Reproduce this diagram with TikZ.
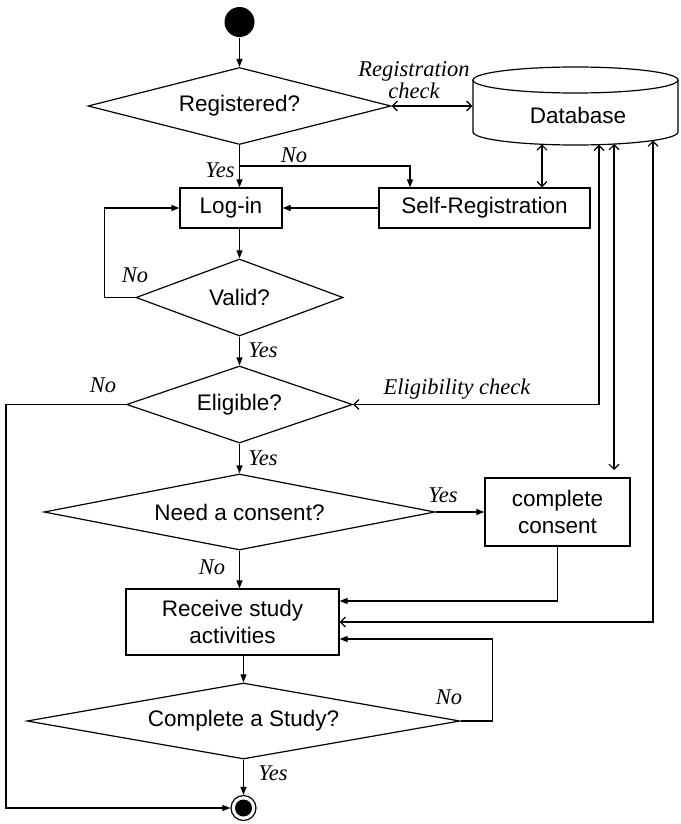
\documentclass[tikz,border=0pt]{standalone}
\usepackage{fontspec}
\setmainfont{Liberation Serif}
\setsansfont{Liberation Sans}
\usetikzlibrary{arrows.meta,shapes.geometric}
\begin{document}
\begin{tikzpicture}[x=1pt,y=-1pt,line width=1.2pt,
  every node/.style={inner sep=0pt},
  txt/.style={font=\sffamily\fontsize{22.5}{27}\selectfont, align=center},
  box/.style={txt, draw, rectangle},
  decision/.style={txt, draw, diamond, aspect=4},
  lbl/.style={font=\itshape\fontsize{22.5}{17}\selectfont, align=center},
  flow/.style={-{Triangle[length=8pt,width=6pt]}},
  sync/.style={{Straight Barb[length=5pt,width=10pt]}-{Straight Barb[length=5pt,width=10pt]}},
]
\useasboundingbox (0,0) rectangle (680,824);

% start and end states
\node[circle, fill=black, minimum size=30pt] (start) at (239.5,22) {};
\node[circle, draw, minimum size=25pt] (end) at (243.5,808) {};
\fill (end.center) circle (8.5pt);

% database cylinder
\node[minimum width=205pt, minimum height=78pt] (db) at (575.5,106) {};
\node[txt] (dbtext) at (578,115) {Database};
\draw (575.5,80) ellipse [x radius=102.5pt, y radius=13pt];
\draw (473,80) -- (473,132) arc[start angle=180, end angle=360, x radius=102.5pt, y radius=13pt] -- (678,80);
\coordinate (dbA) at (542,144.3);
\coordinate (dbB) at (599,144.7);
\coordinate (dbC) at (614,144);
\coordinate (dbD) at (653,140.5);

% process steps and decisions
\node[decision, minimum width=303pt, minimum height=77pt] (reg) at (239.5,106) {Registered?};
\node[box, minimum width=102pt, minimum height=40pt] (login) at (231,208) {Log-in};
\node[box, minimum width=211pt, minimum height=40pt] (selfreg) at (484.5,208) {Self-Registration};
\node[decision, minimum width=207pt, minimum height=77pt] (valid) at (239.5,297.5) {Valid?};
\node[decision, minimum width=226pt, minimum height=77pt] (elig) at (239.5,404.5) {Eligible?};
\node[decision, minimum width=391pt, minimum height=76pt] (consent) at (239.5,512) {Need a consent?};
\node[box, minimum width=145pt, minimum height=68pt] (cbox) at (557.5,512) {complete\\consent};
\node[box, minimum width=213pt, minimum height=66pt] (recv) at (232.5,622) {Receive study\\activities};
\node[decision, minimum width=433pt, minimum height=76pt] (compl) at (243.5,721) {Complete a Study?};

% control flow
\coordinate (jn) at (239.5,166);
\coordinate (ctop) at (614,470);
\draw[flow] (start.south) -- (start.south |- reg.north);
\draw[flow] (reg.south) -- (reg.south |- login.north);
\draw[flow] (jn) -| ([xshift=-74.5pt]selfreg.north);
\draw[flow] (selfreg.west) -- (login.east);
\draw[flow] (valid.north |- login.south) -- (valid.north);
\draw[flow] (valid.west) -- ++(-31,0) |- (login.west);
\draw[flow] (valid.south) -- (elig.north);
\draw[flow] (elig.west) -- ++(-120,0) |- (end.west);
\draw[flow] (elig.south) -- (consent.north);
\draw[flow] (consent.east) -- (consent.east -| cbox.west);
\draw[flow] (consent.south) -- (consent.south |- recv.north);
\draw[flow] (cbox.south) |- ([yshift=21pt]recv.east);
\draw[flow] (compl.north |- recv.south) -- (compl.north);
\draw[flow] (compl.east) -- ++(32,0) |- ([yshift=-17pt]recv.east);
\draw[flow] (compl.south) -- (end.north);

% database exchanges
\draw[sync] (reg.east) -- (db.west);
\draw[sync] (dbA) -- (dbA |- selfreg.north);
\draw[sync] (elig.east) -| (dbB);
\draw[sync] (dbC) -- (ctop);
\draw[sync] (dbD) |- (recv.east);

% branch labels
\node[lbl] (lregchk) at (414,80) {Registration\\check};
\node[lbl] (lyes1) at (220,170) {Yes};
\node[lbl] (lno1) at (294,155) {No};
\node[lbl] (lno2) at (135,275) {No};
\node[lbl] (lyes2) at (263,350) {Yes};
\node[lbl] (lno3) at (103,385) {No};
\node[lbl] (lelig) at (457,389) {Eligibility check};
\node[lbl] (lyes3) at (263,458) {Yes};
\node[lbl] (lyes4) at (443,495) {Yes};
\node[lbl] (lno4) at (212,567) {No};
\node[lbl] (lno5) at (449,697) {No};
\node[lbl] (lyes5) at (273,773) {Yes};
\end{tikzpicture}
\end{document}
